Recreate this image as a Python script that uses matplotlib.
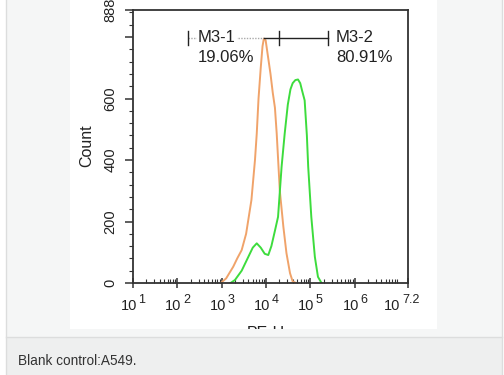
import numpy as np
import matplotlib
matplotlib.use('Agg')
import matplotlib.pyplot as plt
from matplotlib.patches import Rectangle
from matplotlib.lines import Line2D
from matplotlib.transforms import Bbox, TransformedBbox
from matplotlib.ticker import LogLocator, NullFormatter, MultipleLocator

plt.rcParams['font.family'] = ['Liberation Sans', 'DejaVu Sans']

# histogram outlines, x as decade exponent (log10 PE-H)
blank_log = [2.98, 3.1, 3.26, 3.35, 3.45, 3.55, 3.67, 3.75, 3.79, 3.83, 3.88,
             3.92, 3.95, 3.99, 4.04, 4.1, 4.15, 4.2, 4.24, 4.31, 4.39, 4.46,
             4.54, 4.6, 4.68]
blank_count = [0, 15, 53, 80, 107, 160, 270, 400, 486, 600, 700,
               770, 795, 790, 740, 680, 620, 570, 486, 300, 183, 97,
               32, 5, 0]
sample_log = [3.2, 3.3, 3.45, 3.6, 3.7, 3.79, 3.88, 3.97, 4.05, 4.12, 4.2,
              4.27, 4.35, 4.42, 4.49, 4.55, 4.6, 4.66, 4.72, 4.77, 4.81, 4.87,
              4.92, 4.95, 5.02, 5.1, 5.17, 5.25]
sample_count = [0, 10, 40, 85, 115, 129, 115, 95, 91, 120, 170,
                215, 378, 486, 580, 630, 650, 660, 662, 650, 627, 594,
                480, 378, 215, 85, 20, 0]

# gates (decade exponents)
gate_m31 = (2.24, 4.29)
gate_m32 = (4.29, 5.39)
gate_y = 797
labels = [('M3-1', '19.06%'), ('M3-2', '80.91%')]

xtick_exp = ['1', '2', '3', '4', '5', '6', '7.2']
ytick_vals = [0, 200, 400, 600, 800, 888]
ytick_text = ['0', '200', '400', '600', '', '888']

W, H = 504, 375
fig = plt.figure(figsize=(W / 100, H / 100), dpi=100, facecolor='#f5f6f6')

# page pieces around the picture
fig.add_artist(Rectangle((0, 0), 6 / W, 1, transform=fig.transFigure,
                         facecolor='white', edgecolor='none', zorder=0))
fig.add_artist(Rectangle((502 / W, 0), 2 / W, 1, transform=fig.transFigure,
                         facecolor='white', edgecolor='none', zorder=0))
fig.add_artist(Rectangle((6 / W, 0), 496 / W, 38 / H, transform=fig.transFigure,
                         facecolor='#eeefef', edgecolor='none', zorder=0))
fig.add_artist(Rectangle((70 / W, 1 - 329 / H), 367 / W, 329 / H,
                         transform=fig.transFigure, facecolor='white',
                         edgecolor='none', zorder=0))
for xx in (6, 502):
    fig.add_artist(Line2D([xx / W, xx / W], [0, 1], transform=fig.transFigure,
                          color='#dcdddd', lw=1))
fig.add_artist(Line2D([6 / W, 502 / W], [38 / H, 38 / H],
                      transform=fig.transFigure, color='#dcdddd', lw=1))

fig.text(18 / W, 1 - 361 / H, 'Blank control:A549.', fontsize=9.8,
         color='#333333', va='center', ha='left')

ax = fig.add_axes([133 / W, 1 - 283 / H, 275 / W, 273 / H])
ax.patch.set_alpha(0)
ax.set_xscale('log')
ax.set_xlim(10, 10 ** 7.2)
ax.set_ylim(0, 888)

ax.plot(10 ** np.array(blank_log), blank_count, color='#f0a36a', lw=1.4)
ax.plot(10 ** np.array(sample_log), sample_count, color='#3ddc3d', lw=1.4)

# gate markers
peak_x = 10 ** blank_log[int(np.argmax(blank_count))]
ax.plot([10 ** gate_m31[0], peak_x], [gate_y, gate_y], color='#aaaaaa',
        lw=1, ls=(0, (1, 1)))
ax.plot([peak_x, 10 ** gate_m32[1]], [gate_y, gate_y], color='#222222', lw=1)
for g in (gate_m31[0], gate_m31[1], gate_m32[1]):
    ax.plot([10 ** g, 10 ** g], [gate_y - 24, gate_y + 24], color='#222222', lw=1)

for (name, pct), xe in zip(labels, (2.466, 5.577)):
    ax.text(10 ** xe, 799, name, fontsize=12, color='#222222', ha='left',
            va='center', bbox=dict(facecolor='white', edgecolor='none', pad=0.5))
    ax.text(10 ** xe, 735, pct, fontsize=12, color='#222222', ha='left', va='center')

for side in ax.spines.values():
    side.set_color('#333333')
    side.set_linewidth(1.3)

ax.set_xticks([10 ** float(e) for e in xtick_exp])
ax.set_xticklabels([])
ax.xaxis.set_minor_locator(LogLocator(base=10, subs=range(2, 10), numticks=20))
ax.xaxis.set_minor_formatter(NullFormatter())
ax.tick_params(axis='x', which='major', direction='inout', length=7,
               width=1.1, color='#333333')
ax.tick_params(axis='x', which='minor', direction='in', length=3,
               width=0.8, color='#333333')

# tick labels written as "10" plus a raised exponent
for e in xtick_exp:
    wexp = 12.5 * (0.556 * sum(c.isdigit() for c in e) + 0.278 * e.count('.'))
    gap = 1.5
    right10 = 4 - (wexp - 7) * 1.1
    xv = 10 ** float(e)
    ax.annotate('10', xy=(xv, 0), xycoords=('data', 'axes fraction'),
                xytext=(right10, -23), textcoords='offset pixels',
                ha='right', va='center', fontsize=10.5, color='#222222')
    ax.annotate(e, xy=(xv, 0), xycoords=('data', 'axes fraction'),
                xytext=(right10 + gap, -17), textcoords='offset pixels',
                ha='left', va='center', fontsize=9, color='#222222')

ax.set_yticks(ytick_vals)
ax.set_yticklabels(ytick_text, rotation=90, va='center', fontsize=10.5,
                   color='#222222')
ax.yaxis.set_minor_locator(MultipleLocator(40))
ax.tick_params(axis='y', which='major', direction='out', length=6,
               width=1.1, color='#333333', pad=5)
ax.tick_params(axis='y', which='minor', direction='out', length=3,
               width=0.8, color='#333333')

fig.text(87 / W, 1 - 146 / H, 'Count', rotation=90, fontsize=11.5,
         color='#222222', ha='center', va='center')

# x label, cut off at the picture's lower edge
clip = TransformedBbox(Bbox([[70 / W, 46 / H], [437 / W, 1]]), fig.transFigure)
xl = fig.text(266 / W, 1 - 326 / H, 'PE-H', fontsize=11.5, color='#222222',
              ha='center', va='top')
xl.set_clip_box(clip)
xl.set_clip_on(True)

fig.savefig('out.png', dpi=100, facecolor=fig.get_facecolor())
